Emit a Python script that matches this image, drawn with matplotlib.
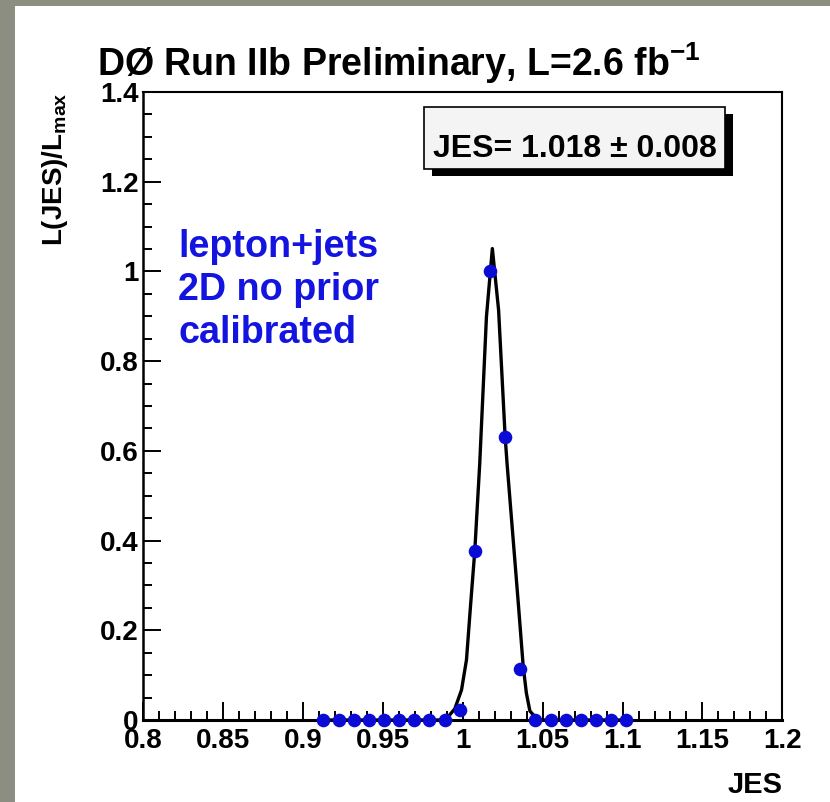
import numpy as np
import matplotlib
matplotlib.use("Agg")
import matplotlib.pyplot as plt
from matplotlib.patches import Rectangle
from matplotlib.ticker import MultipleLocator, FuncFormatter

plt.rcParams['font.family'] = ['Liberation Sans', 'DejaVu Sans']
plt.rcParams['font.weight'] = 'bold'
plt.rcParams['mathtext.fontset'] = 'custom'
plt.rcParams['mathtext.rm'] = 'Liberation Sans:bold'
plt.rcParams['mathtext.bf'] = 'Liberation Sans:bold'
plt.rcParams['mathtext.it'] = 'Liberation Sans:bold'

# likelihood scan points
jes_pts = [0.9127, 0.9222, 0.9317, 0.9412, 0.9507, 0.9601, 0.9696, 0.9791, 0.9886,
           0.9981, 1.0075, 1.0170, 1.0265, 1.0360, 1.0455, 1.0549, 1.0644, 1.0739,
           1.0834, 1.0929, 1.1023]
like_pts = [0, 0, 0, 0, 0, 0, 0, 0, 0,
            0.022, 0.377, 1.0, 0.632, 0.113, 0,
            0, 0, 0, 0, 0, 0]

# fitted curve
jes_fit = [0.9127, 0.987, 0.991, 0.995, 0.9992, 1.0023, 1.0048, 1.0075, 1.0106,
           1.0148, 1.0185, 1.0224, 1.0265, 1.0277, 1.0349, 1.0378, 1.0398, 1.042,
           1.046, 1.050, 1.1023]
like_fit = [0, 0, 0.008, 0.025, 0.067, 0.134, 0.253, 0.377, 0.572,
            0.899, 1.051, 0.914, 0.632, 0.572, 0.253, 0.12, 0.06, 0.02,
            0.004, 0, 0]

W, H = 830, 802
fig = plt.figure(figsize=(W / 100, H / 100), dpi=100)
fig.patch.set_facecolor('#8b8e81')
# white page area
fig.patches.append(Rectangle((15 / W, 0), 1, 1 - 6 / H, transform=fig.transFigure,
                             facecolor='white', edgecolor='none', zorder=-1))

def fx(px):
    return px / W

def fy(py):
    return 1 - py / H

x0, x1, y0, y1 = 143.3, 782.3, 92, 720
ax = fig.add_axes([fx(x0), fy(y1), (x1 - x0) / W, (y1 - y0) / H])
ax.set_facecolor('white')

ax.plot(jes_fit, like_fit, color='black', lw=2.4, zorder=2)
ax.plot(jes_pts, like_pts, 'o', color='#0b0bd6', ms=9.8, mec='none', zorder=3,
        clip_on=False)

ax.set_xlim(0.8, 1.2)
ax.set_ylim(0, 1.4)
ax.xaxis.set_major_locator(MultipleLocator(0.05))
ax.xaxis.set_minor_locator(MultipleLocator(0.01))
ax.yaxis.set_major_locator(MultipleLocator(0.2))
ax.yaxis.set_minor_locator(MultipleLocator(0.05))
fmt = FuncFormatter(lambda v, p: '%g' % round(v, 3))
ax.xaxis.set_major_formatter(fmt)
ax.yaxis.set_major_formatter(fmt)
ax.tick_params(which='both', direction='in', width=1.4, labelsize=20)
ax.tick_params(which='major', length=13)
ax.tick_params(which='minor', length=6.5)
ax.tick_params(axis='x', pad=6)
ax.tick_params(axis='y', pad=3.5)
for lab in ax.get_xticklabels() + ax.get_yticklabels():
    lab.set_fontweight('bold')
for s in ax.spines.values():
    s.set_linewidth(1.5)
ax.spines['bottom'].set_linewidth(2.2)
ax.spines['left'].set_linewidth(1.8)

# title and axis labels
fig.text(fx(97), fy(76), r'DØ Run IIb Preliminary, L=2.6 fb$^{-1}$', fontsize=27,
         fontweight='bold', ha='left', va='baseline')
fig.text(fx(55), fy(92), r'L(JES)/L$_{\mathrm{max}}$', fontsize=20, fontweight='bold',
         rotation=90, ha='center', va='top')
fig.text(fx(783), fy(793), 'JES', fontsize=21, fontweight='bold', ha='right',
         va='baseline')

# result box with shadow
bx0, bx1, by0, by1 = 424, 725, 107, 169
fig.patches.append(Rectangle((fx(bx0 + 8), fy(by1 + 7)), (bx1 - bx0) / W, (by1 - by0) / H,
                             transform=fig.transFigure, facecolor='black',
                             edgecolor='none', zorder=5))
fig.patches.append(Rectangle((fx(bx0), fy(by1)), (bx1 - bx0) / W, (by1 - by0) / H,
                             transform=fig.transFigure, facecolor='#f4f4f4',
                             edgecolor='black', lw=1.2, zorder=6))
fig.text(fx((bx0 + bx1) / 2), fy(157), 'JES= 1.018 ± 0.008', fontsize=23,
         fontweight='bold', ha='center', va='baseline', zorder=7)

# channel description
for i, line in enumerate(['lepton+jets', '2D no prior', 'calibrated']):
    fig.text(fx(178), fy(257 + 43 * i), line, fontsize=27.2, fontweight='bold',
             color='#1414e0', ha='left', va='baseline')

fig.savefig('out.png', dpi=100, facecolor=fig.get_facecolor())
